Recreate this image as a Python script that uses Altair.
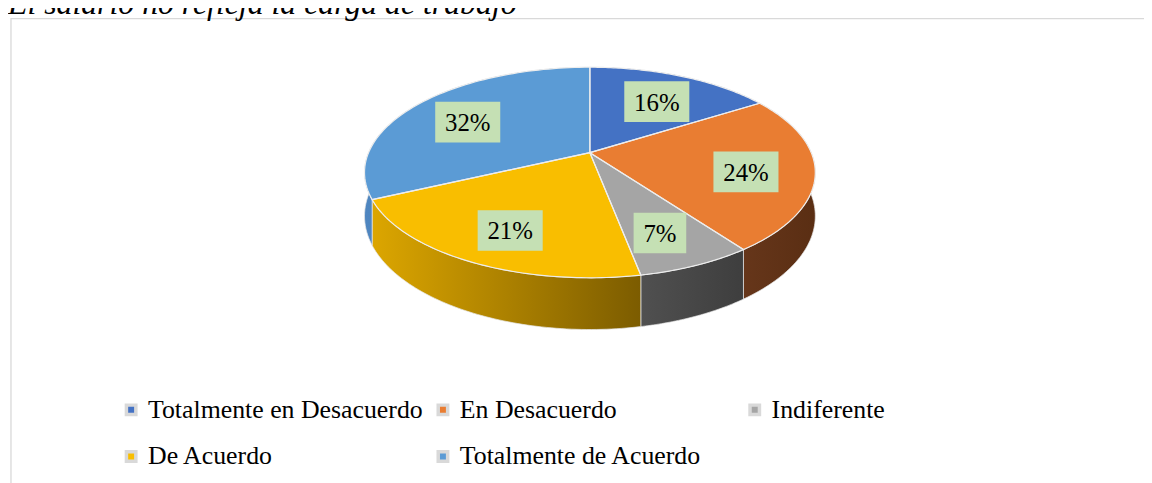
import altair as alt
import pandas as pd

# ---- data ----
categories = ["Totalmente en Desacuerdo", "En Desacuerdo", "Indiferente",
              "De Acuerdo", "Totalmente de Acuerdo"]
percentages = [16, 24, 7, 21, 32]
title_text = "El salario no refleja la carga de trabajo"

# ---- styles ----
top_colors = ["#4472C4", "#E97D32", "#A5A5A5", "#F9BE00", "#5B9BD5"]
side_left = ["#3B64AD", "#66361A", "#505050", "#DCA600", "#4F86C0"]
side_right = ["#2F5597", "#5A2E13", "#3E3E3E", "#7C5C00", "#4178B0"]

# ---- canvas / perspective geometry (svg pixels) ----
W, H = 1144, 475
CX = 586.0      # horizontal centre of the pie
YH = -397.8     # horizon line
A = 541.8       # vertical perspective factor
B = 222.9       # horizontal perspective factor
RR = 0.1887     # radius / distance ratio
S = 1.078       # bottom plane factor (thickness)
N = 72          # points per arc
LABEL_K = 0.7
LABEL_P = 1.01

df = pd.DataFrame({"cat": categories, "value": percentages,
                   "ord": list(range(len(categories)))})

xs = alt.Scale(domain=[0, W], range=[0, W], nice=False, zero=False)
ys = alt.Scale(domain=[0, H], range=[0, H], nice=False, zero=False)

base = (
    alt.Chart(df)
    .transform_window(cum="sum(value)", sort=[alt.SortField("ord")], frame=[None, 0])
    .transform_joinaggregate(total="sum(value)")
    .transform_calculate(a="2*PI*(datum.cum-datum.value)/datum.total")
    .transform_calculate(b="2*PI*datum.cum/datum.total")
)

# top faces
top_base = (
    base.transform_calculate(idx=f"sequence(0,{N + 2})")
    .transform_flatten(["idx"])
    .transform_calculate(t=f"datum.a + (datum.b-datum.a)*max(datum.idx-1,0)/{N}")
    .transform_calculate(k="datum.idx==0 ? 0 : 1")
    .transform_calculate(px=f"{CX} + {B}*datum.k*sin(datum.t)/(1+{RR}*datum.k*cos(datum.t))")
    .transform_calculate(py=f"{YH} + {A}/(1+{RR}*datum.k*cos(datum.t))")
)
top = top_base.mark_line(filled=True, interpolate="linear-closed", fillOpacity=1).encode(
    x=alt.X("px:Q", scale=xs, axis=None),
    y=alt.Y("py:Q", scale=ys, axis=None),
    order=alt.Order("idx:Q"),
    detail="cat:N",
    fill=alt.Fill(
        "cat:N",
        scale=alt.Scale(domain=categories, range=top_colors),
        legend=alt.Legend(
            orient="none", legendX=111, legendY=390, columns=3,
            direction="horizontal", gridAlign="all",
            symbolType="square", symbolSize=90,
            symbolStrokeColor="#D9D9D9", symbolStrokeWidth=3.5,
            labelFont="Liberation Serif", labelFontSize=26,
            labelColor="black", labelLimit=500, title=None,
            rowPadding=21, columnPadding=7, labelOffset=4, padding=0,
            symbolOpacity=1,
        ),
    ),
)
top_outline = top_base.mark_line(interpolate="linear-closed", color="#EDEDED",
                                 strokeWidth=1.2, strokeJoin="round").encode(
    x=alt.X("px:Q", scale=xs, axis=None),
    y=alt.Y("py:Q", scale=ys, axis=None),
    order=alt.Order("idx:Q"),
    detail="cat:N",
)

# side walls
side_base = (
    base.transform_calculate(idx=f"sequence(0,{2 * N + 2})")
    .transform_flatten(["idx"])
    .transform_calculate(
        t=f"datum.idx<={N} ? datum.a+(datum.b-datum.a)*datum.idx/{N} : datum.b-(datum.b-datum.a)*(datum.idx-{N}-1)/{N}")
    .transform_calculate(p=f"datum.idx<={N} ? 1 : {S}")
    .transform_calculate(px=f"{CX} + {B}*sin(datum.t)/(1+{RR}*cos(datum.t))")
    .transform_calculate(py=f"{YH} + {A}*datum.p/(1+{RR}*cos(datum.t))")
)
sides = []
for c, cl, cr in zip(categories, side_left, side_right):
    grad = alt.Gradient(
        gradient="linear",
        stops=[alt.GradientStop(color=cl, offset=0), alt.GradientStop(color=cr, offset=1)],
        x1=0, x2=1, y1=0, y2=0,
    )
    sides.append(
        side_base.transform_filter(alt.datum.cat == c)
        .mark_line(filled=True, interpolate="linear-closed", fill=grad,
                   stroke="#E6E6E6", strokeWidth=0.9, strokeOpacity=0.8)
        .encode(
            x=alt.X("px:Q", scale=xs, axis=None),
            y=alt.Y("py:Q", scale=ys, axis=None),
            order=alt.Order("idx:Q"),
        )
    )

# labels
lab = (
    base.transform_calculate(t="(datum.a+datum.b)/2")
    .transform_calculate(lab="datum.value + '%'")
    .transform_calculate(den=f"1+{RR}*{LABEL_K}*cos(datum.t)")
    .transform_calculate(lx=f"{CX}+{B}*{LABEL_K}*sin(datum.t)/datum.den")
    .transform_calculate(ly=f"{YH}+{A}*{LABEL_P}/datum.den")
    .transform_calculate(w="12.5*length(datum.lab)+28")
    .transform_calculate(x1="datum.lx-datum.w/2", x2b="datum.lx+datum.w/2",
                         y1="datum.ly-20.5", y2b="datum.ly+20.5")
)
boxes = lab.mark_rect(fill="#C5E0B4").encode(
    x=alt.X("x1:Q", scale=xs, axis=None), x2="x2b:Q",
    y=alt.Y("y1:Q", scale=ys, axis=None), y2="y2b:Q",
)
texts = lab.mark_text(font="Liberation Serif", fontSize=25, color="black", dy=1).encode(
    x=alt.X("lx:Q", scale=xs, axis=None),
    y=alt.Y("ly:Q", scale=ys, axis=None),
    text="lab:N",
)

border = alt.Chart(alt.Data(values=[{"k": 1}])).mark_rect(
    fill="white", stroke="#D9D9D9", strokeWidth=1.3
).encode(x=alt.value(3), y=alt.value(9), x2=alt.value(1300), y2=alt.value(700))

title = alt.Chart(alt.Data(values=[{"t": title_text}])).mark_text(
    font="Liberation Serif", fontStyle="italic", fontSize=32, align="left",
    baseline="alphabetic", color="black"
).encode(x=alt.value(0), y=alt.value(4), text="t:N")

chart = (
    alt.layer(border, title, *sides, top, top_outline, boxes, texts)
    .properties(width=W, height=H, autosize=alt.AutoSizeParams(type="none"), padding=0)
    .configure_view(strokeWidth=0)
)

chart.save("out.html", embed_options={"renderer": "svg", "actions": False})
